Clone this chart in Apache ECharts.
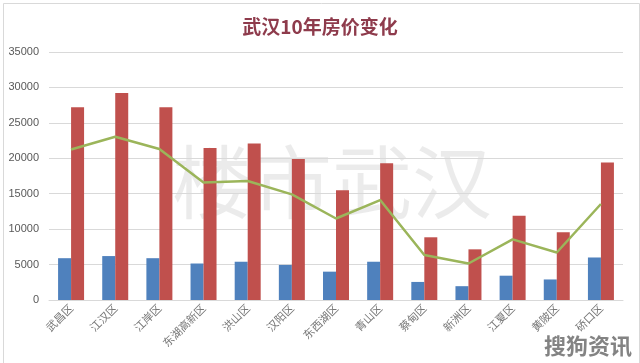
<!DOCTYPE html>
<html><head><meta charset="utf-8">
<script src="https://cdn.jsdelivr.net/npm/echarts@6/dist/echarts.min.js"></script>
<style>html,body{margin:0;padding:0;background:#fff}#c{width:640px;height:363px}</style>
</head><body><div id="c"></div>
<script>
var categories = ['武昌区','江汉区','江岸区','东湖高新区','洪山区','汉阳区','东西湖区','青山区','蔡甸区','新洲区','江夏区','黄陂区','硚口区'];
var blueValues = [5900, 6200, 5900, 5150, 5400, 4950, 4000, 5400, 2550, 1950, 3430, 2900, 6000];
var redValues = [27200, 29200, 27200, 21450, 22100, 19900, 15500, 19300, 8850, 7150, 11900, 9550, 19400];
var lineValues = [21250, 23050, 21300, 16600, 16800, 14900, 11500, 14100, 6350, 5150, 8550, 6700, 13550];
var yTicks = [0, 5000, 10000, 15000, 20000, 25000, 30000, 35000];

var chart = echarts.init(document.getElementById('c'), null, {renderer: 'canvas'});
chart.setOption({
  animation: false,
  backgroundColor: '#fff',
  title: {
    text: '武汉10年房价变化', left: 'center', top: 12,
    textStyle: {color: '#8e3b4c', fontSize: 19, fontWeight: 'bold', fontFamily: 'Noto Sans CJK SC'}
  },
  graphic: [
    {type: 'rect', left: 1, top: 1, shape: {width: 636, height: 360}, style: {fill: 'none', stroke: '#d9d9d9', lineWidth: 1}, silent: true},
    {type: 'text', left: 172, top: 142, z: 0, style: {text: '楼市武汉', fontSize: 80, fontFamily: 'Noto Sans CJK SC', fill: 'rgba(0,0,0,0.08)'}},
    {type: 'text', right: 8, bottom: 6, z: 100, style: {text: '搜狗资讯', fontSize: 22, fontWeight: 'bold', fontFamily: 'Noto Sans CJK SC', fill: 'rgba(90,90,90,0.75)'}}
  ],
  grid: {left: 49, right: 17, top: 52, bottom: 63},
  xAxis: {
    type: 'category', data: categories,
    axisLine: {lineStyle: {color: '#d9d9d9'}},
    axisTick: {show: false},
    axisLabel: {rotate: 45, interval: 0, color: '#777', fontSize: 11, fontFamily: 'Noto Sans CJK SC', margin: 6}
  },
  yAxis: {
    type: 'value', min: yTicks[0], max: yTicks[yTicks.length - 1], interval: 5000,
    axisLine: {show: false}, axisTick: {show: false},
    splitLine: {lineStyle: {color: '#d9d9d9'}},
    axisLabel: {color: '#595959', fontSize: 11, fontFamily: 'Liberation Sans', margin: 10, formatter: function (v) { return String(v); }}
  },
  series: [
    {type: 'bar', data: blueValues, barWidth: 13, barGap: '0%', itemStyle: {color: '#4f81bd'}},
    {type: 'bar', data: redValues, barWidth: 13, barGap: '0%', itemStyle: {color: '#c0504d'}},
    {type: 'line', data: lineValues, symbol: 'none', lineStyle: {color: '#9bb55a', width: 2.5}, itemStyle: {color: '#9bb55a'}}
  ]
});
</script></body></html>
